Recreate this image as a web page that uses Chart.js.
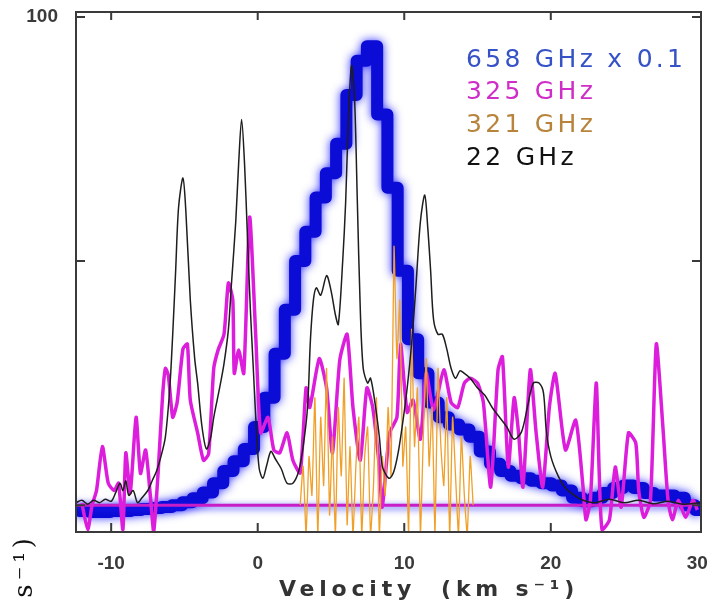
<!DOCTYPE html>
<html>
<head>
<meta charset="utf-8">
<script src="https://cdn.jsdelivr.net/npm/chart.js"></script>
<style>
  body { margin: 0; background: #fff; }
  #wrap { width: 717px; height: 612px; }
</style>
</head>
<body>
<div id="wrap"><canvas id="grafica" width="717" height="612"></canvas></div>
<script>
// Ejes
const xTicks = [-10, 0, 10, 20, 30];
const yTicks = [0, 50, 100];
const yTickLabels = ['', '', '100'];

// 658 GHz x 0.1 (perfil escalonado)
const vel658 = [-12.5, -11.8, -11.1, -10.4, -9.7, -9.0, -8.3, -7.6, -6.9, -6.2, -5.5, -4.8, -4.1, -3.4, -2.7, -2.0, -1.3, -0.6, 0.1, 0.8, 1.5, 2.2, 2.9, 3.6, 4.3, 5.0, 5.7, 6.4, 7.1, 7.8, 8.5, 9.2, 9.9, 10.6, 11.3, 12.0, 12.7, 13.4, 14.1, 14.8, 15.5, 16.2, 16.9, 17.6, 18.3, 19.0, 19.7, 20.4, 21.1, 21.8, 22.5, 23.2, 23.9, 24.6, 25.3, 26.0, 26.7, 27.4, 28.1, 28.8, 29.5, 30.2];
const flux658 = [-1, -1.2, -1.4, -1.4, -1.2, -1.2, -1.0, -0.8, -0.6, -0.4, 0, 0.6, 1.4, 2.6, 4.5, 7, 9, 11.5, 16, 22, 31, 40, 50, 56, 63, 68, 74, 84, 91, 94, 80, 65, 48, 34, 27, 21, 18, 16.5, 15.5, 14, 11, 8.5, 7, 6, 5.5, 5, 4.5, 4, 3, 1.5, 0.8, 1.5, 2.5, 3.5, 4, 3.5, 2.5, 2, 2, 1.5, 0, -1];

// 325 GHz
const vel325 = [-12.0, -11.6, -11.3, -11.0, -10.6, -10.2, -9.8, -9.5, -9.2, -9.0, -8.7, -8.3, -8.0, -7.65, -7.3, -7.1, -6.8, -6.5, -6.3, -6.1, -5.8, -5.5, -5.1, -4.8, -4.6, -4.1, -3.7, -3.35, -3.0, -2.7, -2.3, -2.0, -1.7, -1.6, -1.3, -0.95, -0.55, -0.14, 0.2, 0.7, 1.1, 1.5, 2.0, 2.4, 2.9, 3.3, 3.55, 4.2, 4.7, 5.1, 5.6, 6.1, 6.5, 7.0, 7.45, 7.85, 8.3, 8.5, 9.0, 9.5, 9.75, 10.2, 10.6, 11.1, 11.5, 12.0, 12.7, 13.2, 13.65, 14.1, 14.5, 15.0, 15.4, 15.9, 16.4, 16.7, 17.1, 17.5, 17.8, 18.1, 18.6, 19.0, 19.45, 19.9, 20.3, 21.0, 21.7, 22.2, 22.4, 22.7, 23.1, 23.3, 23.5, 24.0, 24.4, 24.8, 25.3, 25.8, 26.0, 26.35, 26.8, 27.2, 27.65, 28.0, 28.3, 28.7, 29.2, 29.7, 30.0];
const flux325 = [0.4, -5, 0, 3, 12, 4.5, 3, 4.5, -5, 10.7, 2.5, 18, 6.5, 11.3, 1, -5.5, 6.5, 22, 28, 26.6, 18, 21, 32, 33, 21.5, 14.8, 9.2, 10.5, 28, 31.8, 35, 45.5, 42, 27, 31.8, 27, 59, 35, 14.8, 18, 11.3, 10.7, 14.8, 9.2, 6.6, 24, 20, 30, 24, 10.7, 29.7, 35, 20, 9.2, 24, 20, 7.8, -0.4, 14.8, 18, 33, 19, 21.5, 13.5, 27, 19.5, 27.7, 21, 20, 25, 26, 25, 21, 3.7, 27.7, 30.4, 7.8, 22, 14.8, 3.7, 27.7, 14.8, 3.7, 20, 27, 11.3, 17.4, 3.7, -3, 1, 25, 7, -5, -3, 7.8, -0.4, 14.8, 12.7, 3, -2.5, 1, 33, 16, 1, -3, 1, -2.5, 1, -1];
const base325Vel = [-12.4, 29.6];
const base325Flux = [0, 0];

// 321 GHz
const vel321 = [2.9, 3.1, 3.3, 3.5, 3.7, 3.9, 4.1, 4.3, 4.5, 4.7, 4.9, 5.1, 5.3, 5.5, 5.7, 5.9, 6.1, 6.3, 6.5, 6.7, 6.9, 7.1, 7.3, 7.5, 7.7, 7.9, 8.1, 8.3, 8.5, 8.7, 8.9, 9.1, 9.3, 9.5, 9.7, 9.9, 10.1, 10.3, 10.5, 10.7, 10.9, 11.1, 11.3, 11.5, 11.7, 11.9, 12.1, 12.3, 12.5, 12.7, 12.9, 13.1, 13.3, 13.5, 13.7, 13.9, 14.1, 14.3, 14.5, 14.7];
const flux321 = [0, 8, -6, 10, 2, 22, -6, 18, 4, 28, -2, 14, -6, 20, 6, 26, -4, 12, -6, 8, 18, -6, 10, 16, -6, 4, 22, -6, 10, 2, 20, 6, 53, 30, 42, 8, 16, -6, 36, 12, 24, -6, 14, 30, 8, 20, -6, 28, 12, 4, 22, -6, 18, 6, -6, 14, 2, -6, 10, 0];

// 22 GHz
const vel22 = [-12.4, -12.0, -11.6, -11.2, -10.8, -10.4, -10.0, -9.7, -9.4, -9.2, -9.0, -8.8, -8.5, -8.2, -7.9, -7.5, -7.2, -6.9, -6.6, -6.3, -6.0, -5.8, -5.6, -5.4, -5.1, -4.9, -4.6, -4.3, -4.1, -3.8, -3.5, -3.2, -3.0, -2.6, -2.3, -2.0, -1.8, -1.5, -1.3, -1.1, -0.9, -0.7, -0.5, -0.3, -0.1, 0.1, 0.35, 0.6, 0.9, 1.2, 1.6, 2.0, 2.4, 2.8, 3.1, 3.4, 3.6, 3.8, 4.0, 4.3, 4.7, 5.0, 5.3, 5.5, 5.8, 6.0, 6.2, 6.4, 6.6, 6.8, 7.0, 7.2, 7.5, 7.7, 8.0, 8.3, 8.5, 8.8, 9.0, 9.3, 9.6, 9.9, 10.2, 10.5, 10.8, 11.1, 11.4, 11.6, 11.8, 12.0, 12.3, 12.6, 12.9, 13.2, 13.5, 13.8, 14.1, 14.5, 15.0, 15.5, 16.0, 16.5, 17.0, 17.5, 18.0, 18.4, 18.8, 19.2, 19.5, 19.7, 20.0, 20.5, 21.0, 21.6, 22.2, 23.0, 24.0, 25.0, 26.0, 27.0, 28.0, 29.0, 30.2];
const flux22 = [0.5, 1.0, 0.2, 1.0, 0.5, 1.2, 0.8, 2.5, 4.5, 3.0, 5.0, 2.0, 3.0, 0.5, 1.5, 3.0, 5.0, 7.0, 10, 14, 24, 35, 48, 61, 67, 60, 42, 30, 25, 16, 11.5, 14, 18, 24, 29, 36, 45, 58, 70, 79, 70, 55, 40, 28, 16, 7.5, 5.5, 8, 11, 9.5, 7.5, 4.5, 4.5, 7, 12, 20, 34, 42, 44.5, 43, 47, 44, 39, 37, 50, 62, 80, 90, 84, 62, 40, 28, 25, 26, 21, 14, 8, 6, 5.5, 7, 11, 17, 24, 33, 45, 58, 63.5, 57, 48, 38, 35, 35, 32, 28, 26, 27.5, 27, 26, 24, 22.5, 20, 18, 16, 13.5, 15, 20, 25, 25, 23, 15, 10, 6, 3.5, 2, 1, 0.5, 1.2, 0.5, 1.0, 0.3, 0.8, 0.2, 0.5];

const pares = (xs, ys) => xs.map((v, i) => ({ x: v, y: ys[i] }));

// Marco, marcas internas, leyenda y textos
const marcoPlugin = {
  id: 'marco',
  beforeDatasetDraw(chart, args) {
    const ds = chart.data.datasets[args.index];
    if (ds.glow) {
      chart.ctx.save();
      chart.ctx.shadowColor = ds.glow;
      chart.ctx.shadowBlur = ds.glowBlur;
      chart.ctx.shadowOffsetY = ds.glowOffset || 0;
    }
  },
  afterDatasetDraw(chart, args) {
    if (chart.data.datasets[args.index].glow) chart.ctx.restore();
  },
  afterDraw(chart) {
    const ctx = chart.ctx;
    const a = chart.chartArea;
    const xs = chart.scales.x, ys = chart.scales.y;
    ctx.save();
    ctx.strokeStyle = '#3a3a3a';
    ctx.lineWidth = 2;
    ctx.strokeRect(a.left, a.top, a.right - a.left, a.bottom - a.top);
    // marcas hacia dentro
    ctx.beginPath();
    for (const v of xTicks) {
      const px = xs.getPixelForValue(v);
      if (px < a.left + 4 || px > a.right - 4) continue;
      ctx.moveTo(px, a.top); ctx.lineTo(px, a.top + 8);
      ctx.moveTo(px, a.bottom); ctx.lineTo(px, a.bottom - 9);
    }
    for (const v of yTicks) {
      const py = ys.getPixelForValue(v);
      if (py < a.top + 4 || py > a.bottom - 4) continue;
      ctx.moveTo(a.left, py); ctx.lineTo(a.left + 9, py);
      ctx.moveTo(a.right, py); ctx.lineTo(a.right - 9, py);
    }
    ctx.stroke();

    // leyenda
    ctx.font = '25px "DejaVu Sans"';
    ctx.letterSpacing = '3.3px';
    ctx.textBaseline = 'middle';
    ctx.textAlign = 'left';
    chart.data.datasets.filter(d => d.textColor).forEach((d, i) => {
      ctx.fillStyle = d.textColor;
      ctx.fillText(d.label, 466, 60 + i * 32.7);
    });

    // titulo eje x
    ctx.font = 'bold 22px "DejaVu Sans"';
    ctx.letterSpacing = '4.8px';
    ctx.fillStyle = '#333';
    ctx.textAlign = 'center';
    ctx.fillText('Velocity  (km s\u207B\u00B9)', 429, 590);

    // titulo eje y (cortado en la esquina)
    ctx.letterSpacing = '4px';
    ctx.translate(32, 534);
    ctx.rotate(-Math.PI / 2);
    ctx.font = '26px "DejaVu Serif"';
    ctx.textAlign = 'right';
    ctx.textBaseline = 'alphabetic';
    ctx.fillStyle = '#111';
    ctx.fillText('km s\u207B\u00B9)', 0, 0);
    ctx.restore();
  }
};

document.addEventListener('DOMContentLoaded', () => {
  const ctx = document.getElementById('grafica').getContext('2d');
  new Chart(ctx, {
    type: 'line',
    data: {
      datasets: [
        {
          label: '658 GHz x 0.1',
          data: pares(vel658, flux658),
          borderColor: 'rgb(12,12,215)',
          borderWidth: 12,
          stepped: 'middle',
          borderJoinStyle: 'round',
          glow: 'rgba(40,40,255,0.95)',
          glowBlur: 10,
          textColor: '#3552c6',
          order: 5
        },
        {
          label: '325 GHz',
          data: pares(vel325, flux325),
          borderColor: '#dc1edc',
          borderWidth: 3.5,
          tension: 0.2,
          clip: 0,
          textColor: '#d02cc8',
          order: 3
        },
        {
          label: '321 GHz',
          data: pares(vel321, flux321),
          borderColor: '#f0a02a',
          borderWidth: 1.3,
          tension: 0.15,
          clip: 0,
          textColor: '#b8843c',
          order: 2
        },
        {
          label: '22 GHz',
          data: pares(vel22, flux22),
          borderColor: '#1e1e1e',
          borderWidth: 1.5,
          tension: 0.3,
          textColor: '#111111',
          order: 1
        },
        {
          label: 'base 325',
          data: pares(base325Vel, base325Flux),
          borderColor: '#c81ec8',
          borderWidth: 3,
          glow: 'rgba(30,30,255,0.9)',
          glowBlur: 7,
          glowOffset: 2,
          order: 4
        }
      ]
    },
    options: {
      responsive: false,
      animation: false,
      devicePixelRatio: 1,
      layout: { padding: { top: 12, right: 16, left: 0, bottom: 0 } },
      elements: { point: { radius: 0 } },
      plugins: { legend: { display: false }, tooltip: { enabled: false } },
      scales: {
        x: {
          type: 'linear',
          min: -12.4,
          max: 30.25,
          afterBuildTicks: s => { s.ticks = xTicks.map(v => ({ value: v })); },
          afterFit: s => { s.height = 80; s.paddingLeft = 0; s.paddingRight = 0; },
          grid: { display: false, drawTicks: false },
          border: { display: false },
          ticks: {
            padding: 20,
            color: '#3a3a3a',
            font: { family: 'Liberation Sans', size: 19, weight: 'bold' },
            maxRotation: 0
          }
        },
        y: {
          min: -5.5,
          max: 101,
          afterBuildTicks: s => { s.ticks = yTicks.map(v => ({ value: v })); },
          afterFit: s => { s.width = 76; s.paddingTop = 0; s.paddingBottom = 0; },
          grid: { display: false, drawTicks: false },
          border: { display: false },
          ticks: {
            padding: 18,
            color: '#3a3a3a',
            font: { family: 'Liberation Sans', size: 19, weight: 'bold' },
            callback: v => yTickLabels[yTicks.indexOf(v)]
          }
        }
      }
    },
    plugins: [marcoPlugin]
  });
});
</script>
</body>
</html>
